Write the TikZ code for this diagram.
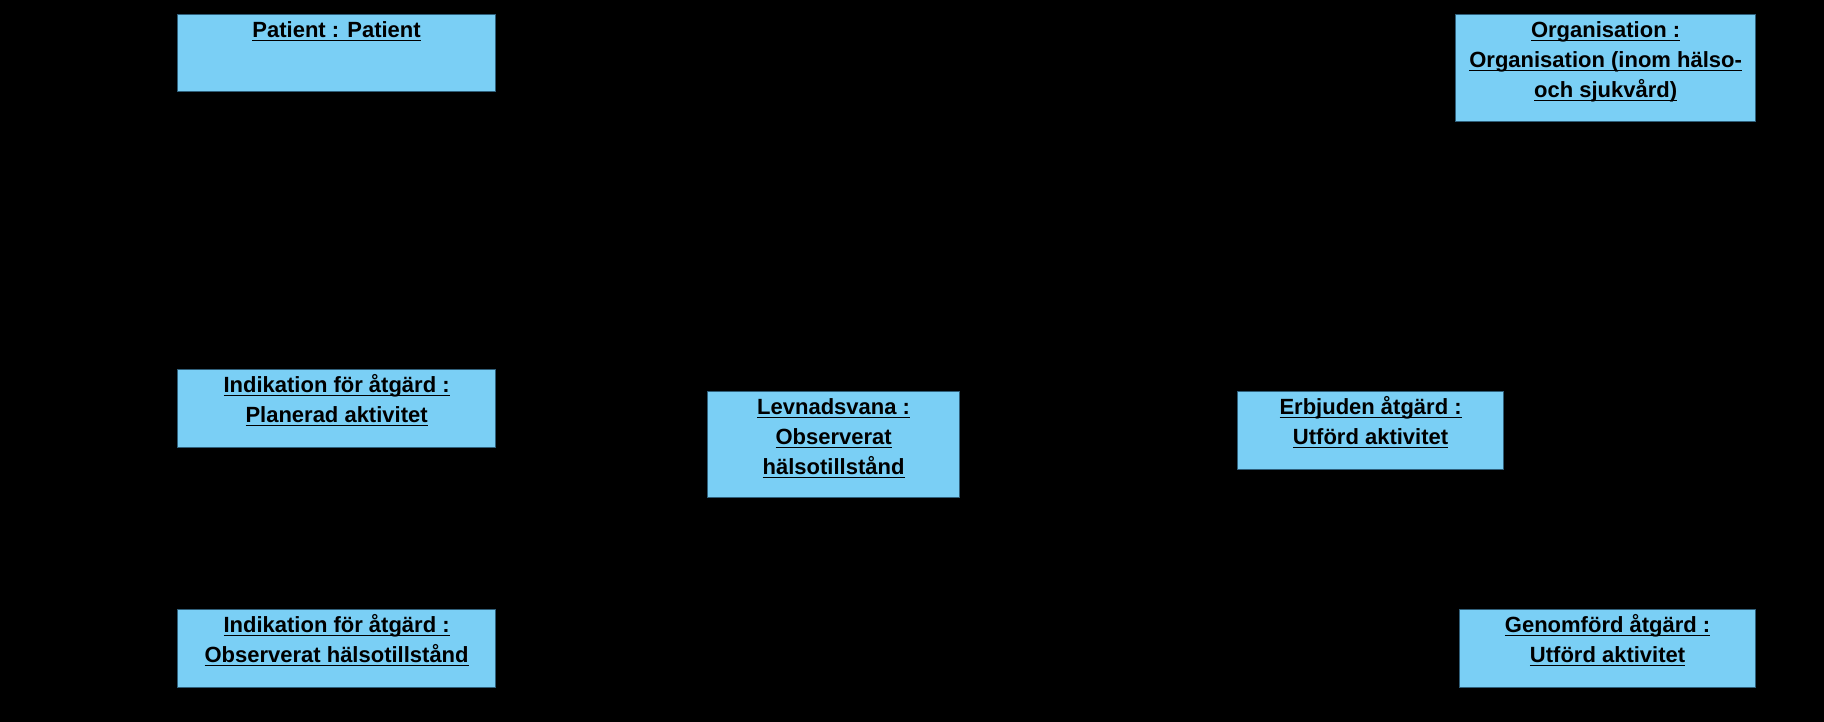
\documentclass[tikz,border=0pt]{standalone}
\usepackage{fontspec}
\setmainfont{Liberation Sans}
\usepackage{amsmath}
\usepackage{tikz}
\usetikzlibrary{positioning}

\definecolor{boxblue}{RGB}{122,207,245}
\definecolor{boxline}{RGB}{47,95,122}

% underline at a fixed distance under the baseline
\newcommand{\uln}[1]{\underline{\smash[b]{#1}}}
\newcommand{\topstrut}{\rule{0pt}{20pt}}

\begin{document}
\begin{tikzpicture}[
  x=1pt, y=1pt,
  objbox/.style={draw=boxline, line width=1.2pt, fill=boxblue, anchor=north west, inner sep=0pt},
  objtext/.style={anchor=north, align=center, inner sep=0pt, yshift=-3pt,
    font=\fontsize{22}{30}\selectfont\bfseries}
]
% background
\fill[black] (0,0) rectangle (1824,-722);
\useasboundingbox (0,0) rectangle (1824,-722);

% objects
\node[objbox, minimum width=318pt, minimum height=77pt] (patient) at (177,-14) {};
\node[objtext] (patienttxt) at (patient.north) {\topstrut\uln{Patient : Patient}};

\node[objbox, minimum width=300pt, minimum height=107pt] (organisation) at (1455,-14) {};
\node[objtext] (organisationtxt) at (organisation.north)
  {\topstrut\uln{Organisation :}\\ \uln{Organisation (inom hälso-}\\ \uln{och sjukvård)}};

\node[objbox, minimum width=318pt, minimum height=78pt] (planerad) at (177,-369) {};
\node[objtext] (planeradtxt) at (planerad.north)
  {\topstrut\uln{Indikation för åtgärd :}\\ \uln{Planerad aktivitet}};

\node[objbox, minimum width=252pt, minimum height=106pt] (levnadsvana) at (707,-391) {};
\node[objtext] (levnadsvanatxt) at (levnadsvana.north)
  {\topstrut\uln{Levnadsvana :}\\ \uln{Observerat}\\ \uln{hälsotillstånd}};

\node[objbox, minimum width=266pt, minimum height=78pt] (erbjuden) at (1237,-391) {};
\node[objtext] (erbjudentxt) at (erbjuden.north)
  {\topstrut\uln{Erbjuden åtgärd :}\\ \uln{Utförd aktivitet}};

\node[objbox, minimum width=318pt, minimum height=78pt] (observerat) at (177,-609) {};
\node[objtext] (observerattxt) at (observerat.north)
  {\topstrut\uln{Indikation för åtgärd :}\\ \uln{Observerat hälsotillstånd}};

\node[objbox, minimum width=296pt, minimum height=78pt] (genomford) at (1459,-609) {};
\node[objtext] (genomfordtxt) at (genomford.north)
  {\topstrut\uln{Genomförd åtgärd :}\\ \uln{Utförd aktivitet}};
\end{tikzpicture}
\end{document}
